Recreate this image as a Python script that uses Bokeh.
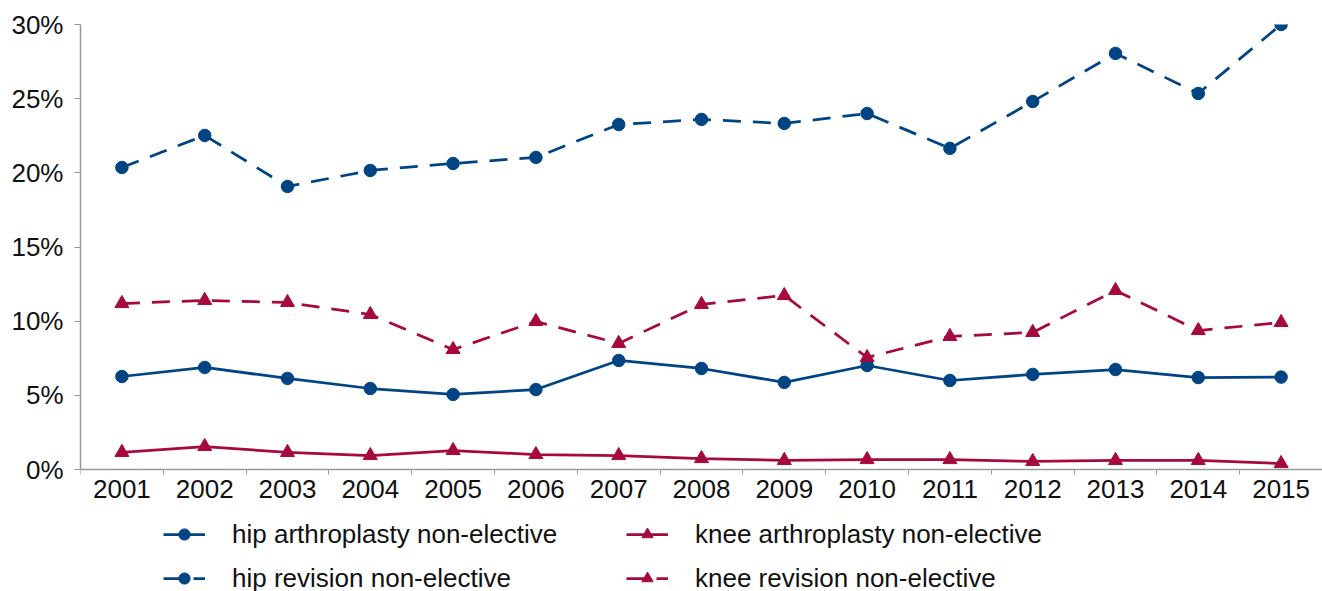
from bokeh.plotting import figure
from bokeh.models import Legend, LegendItem, FixedTicker, Range1d
from bokeh.embed import file_html
from bokeh.resources import INLINE

years = list(range(2001, 2016))
hip_arthroplasty = [6.27, 6.88, 6.14, 5.46, 5.06, 5.39, 7.35, 6.81, 5.87, 7.01, 6.0, 6.41, 6.74, 6.2, 6.23]
knee_arthroplasty = [1.15, 1.55, 1.15, 0.94, 1.28, 1.01, 0.94, 0.74, 0.61, 0.67, 0.67, 0.54, 0.61, 0.61, 0.40]
hip_revision = [20.36, 22.52, 19.08, 20.16, 20.63, 21.04, 23.26, 23.6, 23.33, 24.0, 21.65, 24.81, 28.05, 25.35, 30.0]
knee_revision = [11.19, 11.4, 11.26, 10.45, 8.09, 9.98, 8.5, 11.13, 11.73, 7.55, 8.97, 9.24, 12.07, 9.37, 9.91]
y_ticks = [0, 5, 10, 15, 20, 25, 30]
y_labels = {t: f"{t}%" for t in y_ticks}

BLUE = "#004483"
RED = "#A6093D"
FONT = "Liberation Sans"
FS = "26px"
DASH = "18 12"

# plot area: 0%..30% occupies the top 445 px; the band below 0 holds tick labels and legend
Y_MIN = -122 / (445 / 30)

p = figure(frame_width=1242, frame_height=567, output_backend="svg", toolbar_location=None,
           x_range=Range1d(2000.5, 2015.5), y_range=Range1d(Y_MIN, 30))
p.min_border_left = 80
p.min_border_right = 0
p.min_border_top = 24
p.min_border_bottom = 0
p.outline_line_color = None
p.xgrid.visible = False
p.ygrid.visible = False

l1 = p.line(years, hip_arthroplasty, line_color=BLUE, line_width=2.75)
s1 = p.scatter(years, hip_arthroplasty, marker="circle", size=12.5, fill_color=BLUE, line_color=BLUE)
l2 = p.line(years, knee_arthroplasty, line_color=RED, line_width=2.75)
s2 = p.scatter(years, knee_arthroplasty, marker="triangle", size=14, fill_color=RED, line_color=RED)
l3 = p.line(years, hip_revision, line_color=BLUE, line_width=2.75, line_dash=DASH)
s3 = p.scatter(years, hip_revision, marker="circle", size=12.5, fill_color=BLUE, line_color=BLUE)
l4 = p.line(years, knee_revision, line_color=RED, line_width=2.75, line_dash=DASH)
s4 = p.scatter(years, knee_revision, marker="triangle", size=14, fill_color=RED, line_color=RED)

# x axis, drawn at 0%
p.xaxis.fixed_location = 0
p.xaxis.ticker = FixedTicker(ticks=years, minor_ticks=[y - 0.5 for y in years] + [years[-1] + 0.5])
p.xaxis.major_tick_out = 0
p.xaxis.major_tick_in = 0
p.xaxis.minor_tick_out = 5
p.xaxis.minor_tick_in = 0
p.xaxis.minor_tick_line_color = "#999999"
p.xaxis.axis_line_color = "#999999"
p.xaxis.axis_line_width = 1.5
p.xaxis.major_label_standoff = 5
p.xaxis.major_label_text_font = FONT
p.xaxis.major_label_text_font_size = FS
p.xaxis.major_label_text_color = "#111111"

# y axis
p.yaxis.bounds = (0, 30)
p.yaxis.ticker = FixedTicker(ticks=y_ticks)
p.yaxis.major_label_overrides = y_labels
p.yaxis.major_tick_out = 6
p.yaxis.major_tick_in = 0
p.yaxis.minor_tick_out = 0
p.yaxis.minor_tick_in = 0
p.yaxis.major_tick_line_color = "#999999"
p.yaxis.axis_line_color = "#999999"
p.yaxis.axis_line_width = 1.5
p.yaxis.major_label_standoff = 11
p.yaxis.major_label_text_font = FONT
p.yaxis.major_label_text_font_size = FS
p.yaxis.major_label_text_color = "#111111"

legend = Legend(items=[
    LegendItem(label="hip arthroplasty non-elective", renderers=[l1, s1]),
    LegendItem(label="knee arthroplasty non-elective", renderers=[l2, s2]),
    LegendItem(label="hip revision non-elective", renderers=[l3, s3]),
    LegendItem(label="knee revision non-elective", renderers=[l4, s4]),
], orientation="horizontal", ncols=2, location=(83, -9))
legend.label_text_font = FONT
legend.label_text_font_size = FS
legend.label_text_color = "#111111"
legend.glyph_width = 42
legend.glyph_height = 28
legend.label_standoff = 27
legend.spacing = 0
legend.label_width = 394
legend.label_height = 44
legend.border_line_alpha = 0
legend.background_fill_alpha = 0
legend.margin = 0
legend.padding = 0
p.add_layout(legend, "center")

open("out.html", "w").write(file_html(p, INLINE))
